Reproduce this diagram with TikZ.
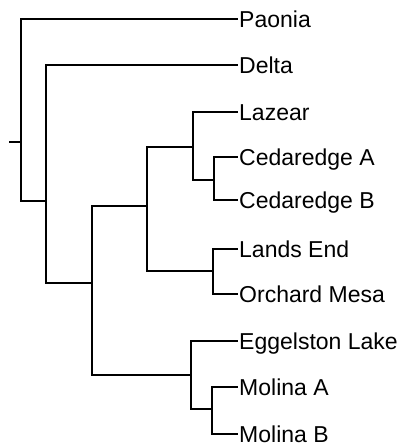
\documentclass[tikz,border=0pt]{standalone}
\usepackage{fontspec}
\setmainfont{Liberation Sans}
\usetikzlibrary{positioning}

\begin{document}
\begin{tikzpicture}[
    x=1pt, y=-1pt,
    leaf/.style={anchor=west, inner sep=1pt, text height=16.5pt, text depth=0pt, font=\fontsize{23}{23}\selectfont},
    branch/.style={line width=1.1pt}
]
\useasboundingbox (0,0) rectangle (399,443);
% leaves
\node[leaf] (paonia) at (238,19) {Paonia};
\node[leaf] (delta) at (238,65) {Delta};
\node[leaf] (lazear) at (238,112) {Lazear};
\node[leaf] (cedA) at (238,157) {Cedaredge A};
\node[leaf] (cedB) at (238,200) {Cedaredge B};
\node[leaf] (lands) at (238,249) {Lands End};
\node[leaf] (orchard) at (238,294) {Orchard Mesa};
\node[leaf] (eggel) at (238,341) {Eggelston Lake};
\node[leaf] (molA) at (238,387) {Molina A};
\node[leaf] (molB) at (238,434) {Molina B};
% internal nodes
\coordinate (stub) at (9,142);
\coordinate (root) at (21,142);
\coordinate (nA) at (46,201);
\coordinate (nB) at (92,283);
\coordinate (nC) at (147,206);
\coordinate (nD) at (193,147);
\coordinate (nE) at (214,180);
\coordinate (nF) at (213,271);
\coordinate (nG) at (191,375);
\coordinate (nH) at (212,409);
% branches
\draw[branch] (stub) -- (root);
\draw[branch] (root) |- (paonia);
\draw[branch] (root) |- (nA);
\draw[branch] (nA) |- (delta);
\draw[branch] (nA) |- (nB);
\draw[branch] (nB) |- (nC);
\draw[branch] (nB) |- (nG);
\draw[branch] (nC) |- (nD);
\draw[branch] (nC) |- (nF);
\draw[branch] (nD) |- (lazear);
\draw[branch] (nD) |- (nE);
\draw[branch] (nE) |- (cedA);
\draw[branch] (nE) |- (cedB);
\draw[branch] (nF) |- (lands);
\draw[branch] (nF) |- (orchard);
\draw[branch] (nG) |- (eggel);
\draw[branch] (nG) |- (nH);
\draw[branch] (nH) |- (molA);
\draw[branch] (nH) |- (molB);
\end{tikzpicture}
\end{document}
